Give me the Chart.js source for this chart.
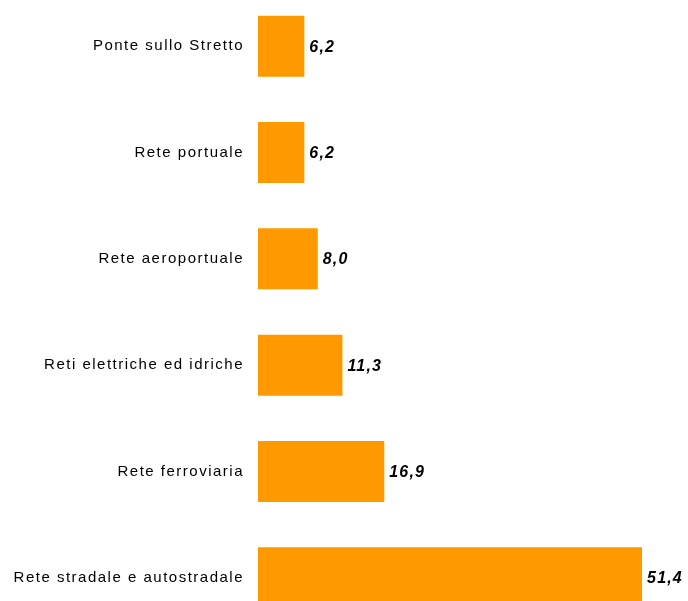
<!DOCTYPE html>
<html>
<head>
<meta charset="utf-8">
<script src="https://cdn.jsdelivr.net/npm/chart.js@4/dist/chart.umd.min.js"></script>
<style>
  html, body { margin: 0; padding: 0; background: #fff; overflow: hidden; width: 688px; height: 601px; }
  #chart { position: absolute; left: 0; top: -7px; }
</style>
</head>
<body>
<canvas id="chart" width="688" height="638"></canvas>
<script>
/* ---------- Dati ---------- */
const CATEGORIE = [
  'Ponte sullo Stretto',
  'Rete portuale',
  'Rete aeroportuale',
  'Reti elettriche ed idriche',
  'Rete ferroviaria',
  'Rete stradale e autostradale',
];
const VALORI = [6.2, 6.2, 8.0, 11.3, 16.9, 51.4];

const ARANCIO = '#FF9900';

/* ---------- Etichette valori (es. "6,2") ---------- */
const valueLabels = {
  id: 'valueLabels',
  afterDatasetsDraw(chart) {
    const ctx = chart.ctx;
    const meta = chart.getDatasetMeta(0);
    ctx.save();
    ctx.font = 'italic bold 16px "Liberation Sans", Arial, sans-serif';
    ctx.letterSpacing = '1.2px';
    ctx.fillStyle = '#000';
    ctx.textAlign = 'left';
    ctx.textBaseline = 'middle';
    meta.data.forEach((bar, i) => {
      const txt = VALORI[i].toFixed(1).replace('.', ',');
      ctx.fillText(txt, bar.x + 5, bar.y + 1);
    });
    ctx.restore();
  },
};

/* spaziatura larga delle etichette categoria */
const spacing = {
  id: 'spacing',
  beforeDraw(chart) { chart.ctx.letterSpacing = '1.5px'; },
  afterDraw(chart) { chart.ctx.letterSpacing = '0px'; },
};

new Chart(document.getElementById('chart'), {
  type: 'bar',
  data: {
    labels: CATEGORIE,
    datasets: [{
      data: VALORI,
      backgroundColor: ARANCIO,
      borderWidth: 0,
      categoryPercentage: 1,
      barPercentage: 0.573,
    }],
  },
  options: {
    indexAxis: 'y',
    responsive: false,
    animation: false,
    devicePixelRatio: 1,
    layout: { autoPadding: false, padding: { left: 0, right: 11.6, top: 0, bottom: 0 } },
    plugins: { legend: { display: false }, tooltip: { enabled: false } },
    scales: {
      x: { display: false, min: 0, max: 56 },
      y: {
        grid: { display: false, drawTicks: false },
        border: { display: false },
        ticks: {
          color: '#000',
          padding: 14,
          font: { family: '"Liberation Sans", Arial, sans-serif', size: 15 },
        },
        afterFit: s => {
          s.width = 258;
          s.paddingTop = 0;
          s.paddingBottom = 0;
        },
      },
    },
  },
  plugins: [spacing, valueLabels],
});
</script>
</body>
</html>
